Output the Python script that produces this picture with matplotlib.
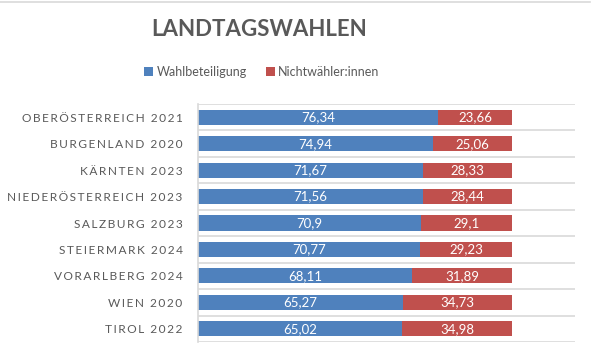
"""Turnout in Austrian state elections as stacked horizontal bars."""

import matplotlib.pyplot as plt
import numpy as np

plt.rcParams["font.family"] = ["Lato", "DejaVu Sans"]

STATES = [
    "OBERÖSTERREICH 2021",
    "BURGENLAND 2020",
    "KÄRNTEN 2023",
    "NIEDERÖSTERREICH 2023",
    "SALZBURG 2023",
    "STEIERMARK 2024",
    "VORARLBERG 2024",
    "WIEN 2020",
    "TIROL 2022",
]
TURNOUT = [76.34, 74.94, 71.67, 71.56, 70.9, 70.77, 68.11, 65.27, 65.02]
NON_VOTERS = [23.66, 25.06, 28.33, 28.44, 29.1, 29.23, 31.89, 34.73, 34.98]
TURNOUT_LABELS = ["76,34", "74,94", "71,67", "71,56", "70,9", "70,77", "68,11", "65,27", "65,02"]
NON_VOTER_LABELS = ["23,66", "25,06", "28,33", "28,44", "29,1", "29,23", "31,89", "34,73", "34,98"]

BLUE = "#4F81BD"
RED = "#C0504D"
TEXT_GRAY = "#595959"
GRID_GRAY = "#D9D9D9"


def spaced(text: str, gap: str) -> str:
    """Imitate letter spacing by putting a narrow space between characters."""
    return gap.join(text)


def main() -> None:
    figure = plt.figure(figsize=(5.92, 3.6), dpi=100)
    axes = figure.add_axes([198 / 592, 1 - 342 / 360, 377 / 592, 238 / 360])

    positions = np.arange(len(STATES))
    height = 0.57
    blue_bars = axes.barh(positions, TURNOUT, height=height, color=BLUE,
                          label="Wahlbeteiligung", zorder=2)
    red_bars = axes.barh(positions, NON_VOTERS, left=TURNOUT, height=height,
                         color=RED, label="Nichtwähler:innen", zorder=2)

    axes.bar_label(blue_bars, labels=TURNOUT_LABELS, label_type="center",
                   color="white", fontsize=9.5)
    axes.bar_label(red_bars, labels=NON_VOTER_LABELS, label_type="center",
                   color="white", fontsize=9.5)

    axes.set_xlim(0, 120)
    axes.set_ylim(len(STATES) - 0.5, -0.5)
    axes.set_yticks(positions)
    axes.set_yticklabels([spaced(name, "\u2009") for name in STATES],
                         fontsize=8.6, color=TEXT_GRAY)
    axes.set_yticks(np.arange(-0.5, len(STATES), 1), minor=True)
    axes.grid(which="minor", axis="y", color=GRID_GRAY, linewidth=1.2, zorder=0)
    axes.tick_params(which="both", length=0, pad=11)
    axes.set_xticks([])

    for side in ("top", "right", "bottom"):
        axes.spines[side].set_visible(False)
    axes.spines["left"].set_color(GRID_GRAY)
    axes.spines["left"].set_linewidth(1.2)

    figure.text(259 / 592, 1 - 30 / 360, "LANDTAGSWAHLEN",
                ha="center", va="center", fontsize=16, fontweight="bold",
                color=TEXT_GRAY)

    figure.legend(handles=[blue_bars, red_bars], loc="center",
                  bbox_to_anchor=(262 / 592, 1 - 72 / 360), ncol=2,
                  frameon=False, fontsize=9, labelcolor=TEXT_GRAY,
                  handlelength=0.7, handleheight=0.7, handletextpad=0.3,
                  columnspacing=1.5)

    figure.add_artist(plt.Line2D([0, 590 / 592], [1 - 1.5 / 360] * 2,
                                 color=GRID_GRAY, linewidth=1.2,
                                 transform=figure.transFigure))

    figure.savefig("out.png", dpi=100)


if __name__ == "__main__":
    main()
